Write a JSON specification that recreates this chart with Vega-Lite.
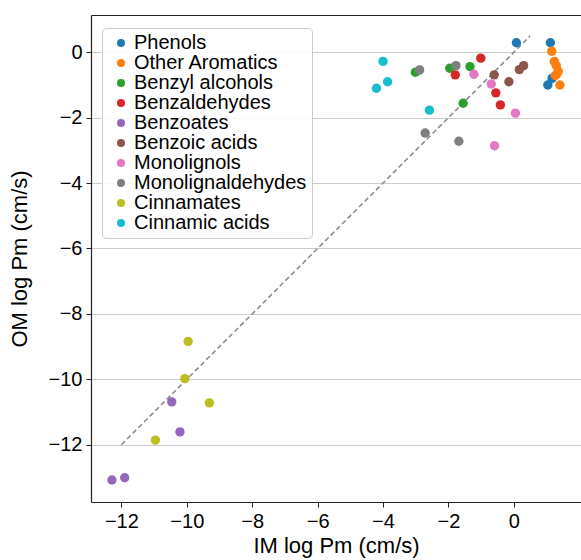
{
  "$schema": "https://vega.github.io/schema/vega-lite/v6.json",
  "width": 490,
  "height": 487,
  "autosize": {"type": "none"},
  "padding": {"left": 91, "top": 15, "right": 0, "bottom": 58},
  "background": "white",
  "config": {
    "font": "Liberation Sans",
    "view": {"stroke": null},
    "axis": {
      "labelFont": "Liberation Sans",
      "titleFont": "Liberation Sans",
      "labelFontSize": 20,
      "titleFontSize": 22,
      "titleFontWeight": "normal",
      "labelColor": "black",
      "titleColor": "black",
      "tickColor": "#222",
      "tickSize": 5,
      "labelPadding": 4,
      "domainColor": "#222",
      "domainWidth": 1.2,
      "gridColor": "#cccccc",
      "gridWidth": 1
    },
    "legend": {
      "labelFont": "Liberation Sans",
      "labelFontSize": 20,
      "labelColor": "black"
    }
  },
  "datasets": {
    "pts": [
      {"cls": "Phenols", "im": 0.08, "om": 0.29},
      {"cls": "Phenols", "im": 1.12, "om": 0.29},
      {"cls": "Phenols", "im": 1.17, "om": -0.80},
      {"cls": "Phenols", "im": 1.04, "om": -1.0},
      {"cls": "Other Aromatics", "im": 1.16, "om": 0.03},
      {"cls": "Other Aromatics", "im": 1.24, "om": -0.28},
      {"cls": "Other Aromatics", "im": 1.30, "om": -0.41},
      {"cls": "Other Aromatics", "im": 1.36, "om": -0.58},
      {"cls": "Other Aromatics", "im": 1.32, "om": -0.66},
      {"cls": "Other Aromatics", "im": 1.27, "om": -0.71},
      {"cls": "Other Aromatics", "im": 1.41, "om": -1.0},
      {"cls": "Benzyl alcohols", "im": -3.01, "om": -0.61},
      {"cls": "Benzyl alcohols", "im": -1.96, "om": -0.49},
      {"cls": "Benzyl alcohols", "im": -1.34, "om": -0.44},
      {"cls": "Benzyl alcohols", "im": -1.55, "om": -1.56},
      {"cls": "Benzaldehydes", "im": -1.79, "om": -0.69},
      {"cls": "Benzaldehydes", "im": -1.01, "om": -0.18},
      {"cls": "Benzaldehydes", "im": -0.55, "om": -1.24},
      {"cls": "Benzaldehydes", "im": -0.41, "om": -1.61},
      {"cls": "Benzoates", "im": -10.46, "om": -10.69},
      {"cls": "Benzoates", "im": -10.21, "om": -11.61},
      {"cls": "Benzoates", "im": -12.29, "om": -13.08},
      {"cls": "Benzoates", "im": -11.90, "om": -13.01},
      {"cls": "Benzoic acids", "im": -0.60, "om": -0.69},
      {"cls": "Benzoic acids", "im": -0.15, "om": -0.90},
      {"cls": "Benzoic acids", "im": 0.17, "om": -0.53},
      {"cls": "Benzoic acids", "im": 0.30, "om": -0.41},
      {"cls": "Monolignols", "im": -1.22, "om": -0.67},
      {"cls": "Monolignols", "im": -0.69, "om": -0.97},
      {"cls": "Monolignols", "im": 0.05, "om": -1.86},
      {"cls": "Monolignols", "im": -0.59, "om": -2.86},
      {"cls": "Monolignaldehydes", "im": -2.88, "om": -0.54},
      {"cls": "Monolignaldehydes", "im": -1.77, "om": -0.41},
      {"cls": "Monolignaldehydes", "im": -2.71, "om": -2.47},
      {"cls": "Monolignaldehydes", "im": -1.68, "om": -2.72},
      {"cls": "Cinnamates", "im": -9.96, "om": -8.84},
      {"cls": "Cinnamates", "im": -10.06, "om": -9.98},
      {"cls": "Cinnamates", "im": -9.31, "om": -10.72},
      {"cls": "Cinnamates", "im": -10.96, "om": -11.86},
      {"cls": "Cinnamic acids", "im": -4.0, "om": -0.28},
      {"cls": "Cinnamic acids", "im": -3.86, "om": -0.90},
      {"cls": "Cinnamic acids", "im": -4.20, "om": -1.10},
      {"cls": "Cinnamic acids", "im": -2.58, "om": -1.77}
    ],
    "diag": [
      {"im": -12, "om": -12},
      {"im": 0.5, "om": 0.5}
    ]
  },
  "layer": [
    {
      "data": {"name": "diag"},
      "mark": {"type": "line", "color": "#888888", "strokeWidth": 1.5, "strokeDash": [5, 3]},
      "encoding": {
        "x": {"field": "im", "type": "quantitative",
              "scale": {"domain": [-12.93, 2.055], "nice": false, "zero": false},
              "axis": {"orient": "top", "labels": false, "ticks": false, "grid": false, "title": null, "domain": true}},
        "y": {"field": "om", "type": "quantitative",
              "scale": {"domain": [-13.753, 1.14], "nice": false, "zero": false},
              "axis": {"title": "OM log Pm (cm/s)", "values": [-12, -10, -8, -6, -4, -2, 0], "titlePadding": 17}}
      }
    },
    {
      "data": {"name": "pts"},
      "mark": {"type": "point", "filled": true, "opacity": 1, "size": 88},
      "encoding": {
        "x": {"field": "im", "type": "quantitative",
              "axis": {"title": "IM log Pm (cm/s)", "values": [-12, -10, -8, -6, -4, -2, 0], "titlePadding": 4}},
        "y": {"field": "om", "type": "quantitative"},
        "color": {
          "field": "cls", "type": "nominal",
          "scale": {
            "domain": ["Phenols", "Other Aromatics", "Benzyl alcohols", "Benzaldehydes", "Benzoates", "Benzoic acids", "Monolignols", "Monolignaldehydes", "Cinnamates", "Cinnamic acids"],
            "range": ["#1f77b4", "#ff7f0e", "#2ca02c", "#d62728", "#9467bd", "#8c564b", "#e377c2", "#7f7f7f", "#bcbd22", "#17becf"]
          },
          "legend": {
            "title": null,
            "orient": "none",
            "legendX": 11,
            "legendY": 13,
            "padding": 5,
            "rowPadding": 0,
            "symbolType": "circle",
            "symbolSize": 64,
            "symbolOffset": 4,
            "labelOffset": 3,
            "labelLimit": 400,
            "strokeColor": "#cccccc",
            "cornerRadius": 4,
            "fillColor": "rgba(255,255,255,0.85)"
          }
        }
      }
    }
  ],
  "resolve": {"axis": {"x": "independent"}}
}
